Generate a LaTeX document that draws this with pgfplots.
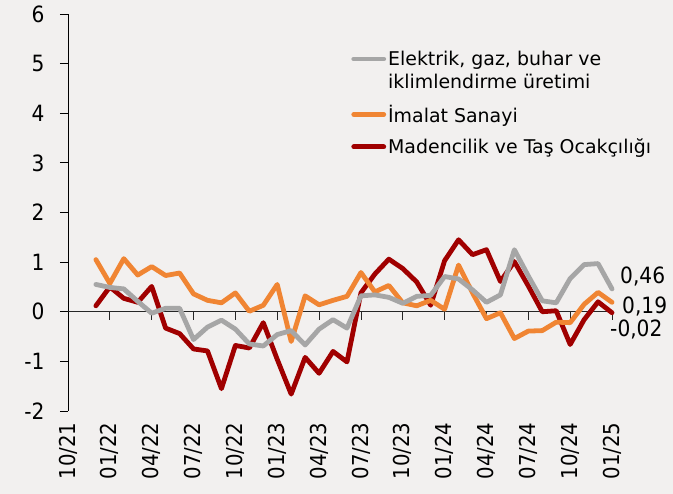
\documentclass[border=0pt]{standalone}
\usepackage{fontspec}
\setmainfont{DejaVu Sans Condensed}
\newfontfamily\legfont{DejaVu Sans}
\usepackage{pgfplots}
\pgfplotsset{compat=1.18}
\definecolor{bg}{HTML}{F2F0EF}
\definecolor{cgray}{HTML}{A6A6A6}
\definecolor{corange}{HTML}{F08533}
\definecolor{cred}{HTML}{A00000}

\pgfplotstableread{
i gray orange red
2 0.55 1.05 0.12
3 0.49 0.57 0.50
4 0.46 1.07 0.27
5 0.21 0.74 0.19
6 -0.03 0.91 0.51
7 0.07 0.73 -0.33
8 0.07 0.78 -0.44
9 -0.56 0.36 -0.75
10 -0.31 0.23 -0.79
11 -0.17 0.18 -1.55
12 -0.35 0.38 -0.68
13 -0.65 0.01 -0.73
14 -0.69 0.13 -0.22
15 -0.46 0.55 -0.96
16 -0.38 -0.60 -1.66
17 -0.67 0.32 -0.92
18 -0.35 0.14 -1.24
19 -0.16 0.23 -0.80
20 -0.33 0.31 -1.01
21 0.32 0.79 0.38
22 0.34 0.40 0.76
23 0.29 0.53 1.06
24 0.17 0.18 0.87
25 0.31 0.12 0.60
26 0.33 0.23 0.13
27 0.71 0.05 1.03
28 0.66 0.94 1.45
29 0.44 0.38 1.15
30 0.19 -0.14 1.25
31 0.34 -0.02 0.61
32 1.25 -0.54 1.01
33 0.72 -0.39 0.52
34 0.22 -0.38 0.00
35 0.18 -0.21 0.02
36 0.67 -0.22 -0.66
37 0.95 0.15 -0.16
38 0.97 0.39 0.20
39 0.46 0.19 -0.02
}\datatable

\begin{document}
\begin{tikzpicture}[x=1bp,y=1bp]
\fill[bg] (0,0) rectangle (673,494);
\begin{axis}[
  at={(68bp,83bp)}, anchor=south west,
  scale only axis, width=544bp, height=397bp,
  xmin=0, xmax=39, ymin=-2, ymax=6,
  axis y line*=left, axis x line*=bottom,
  x axis line style={draw=none},
  y axis line style={black, line width=0.8pt},
  xtick={0,3,...,39},
  xticklabels={10/21,01/22,04/22,07/22,10/22,01/23,04/23,07/23,10/23,01/24,04/24,07/24,10/24,01/25},
  xtick style={draw=none},
  ytick={-2,-1,...,6},
  ytick style={black, line width=0.8pt},
  tick align=outside, major tick length=8bp,
  x tick label style={rotate=90, anchor=east, font=\fontsize{22}{26}\selectfont},
  y tick label style={font=\fontsize{22.5}{26}\selectfont, xshift=-12bp},
  /pgf/number format/assume math mode=true,
  clip=false,
  legend style={at={(0.515,0.917)}, anchor=north west, draw=none, fill=none,
    font=\legfont\fontsize{19}{23}\selectfont, row sep=11bp,
    nodes={align=left, inner sep=2bp}},
  legend cell align=left,
  legend image code/.code={\draw[#1] (0bp,0bp) -- (30bp,0bp);},
  reverse legend,
  every axis plot/.append style={line width=4.8bp, line join=round, line cap=round},
]
\draw[black!85, line width=0.8pt] (axis cs:0,0) -- (axis cs:39,0);
\pgfplotsinvokeforeach{3,6,9,12,15,18,21,24,27,30,33,36,39}{
  \draw[black!85, line width=0.8pt] (axis cs:#1,0) -- ([yshift=-8bp]axis cs:#1,0);
}
\addplot[cred] table[x=i, y=red] {\datatable};
\addlegendentry{Madencilik ve Taş Ocakçılığı}
\addplot[corange] table[x=i, y=orange] {\datatable};
\addlegendentry{İmalat Sanayi}
\addplot[cgray, legend image code/.code={\draw[##1] (0bp,11.5bp) -- (30bp,11.5bp);}] table[x=i, y=gray] {\datatable};
\addlegendentry{Elektrik, gaz, buhar ve\\iklimlendirme üretimi}
\node[anchor=west, font=\fontsize{22.5}{26}\selectfont, inner sep=0pt] at (axis cs:39,0.72) [xshift=8bp] {0,46};
\node[anchor=west, font=\fontsize{22.5}{26}\selectfont, inner sep=0pt] at (axis cs:39,0.10) [xshift=10bp] {0,19};
\node[anchor=west, font=\fontsize{22.5}{26}\selectfont, inner sep=0pt] at (axis cs:39,-0.36) [xshift=-2bp] {-0,02};
\end{axis}
\end{tikzpicture}
\end{document}
